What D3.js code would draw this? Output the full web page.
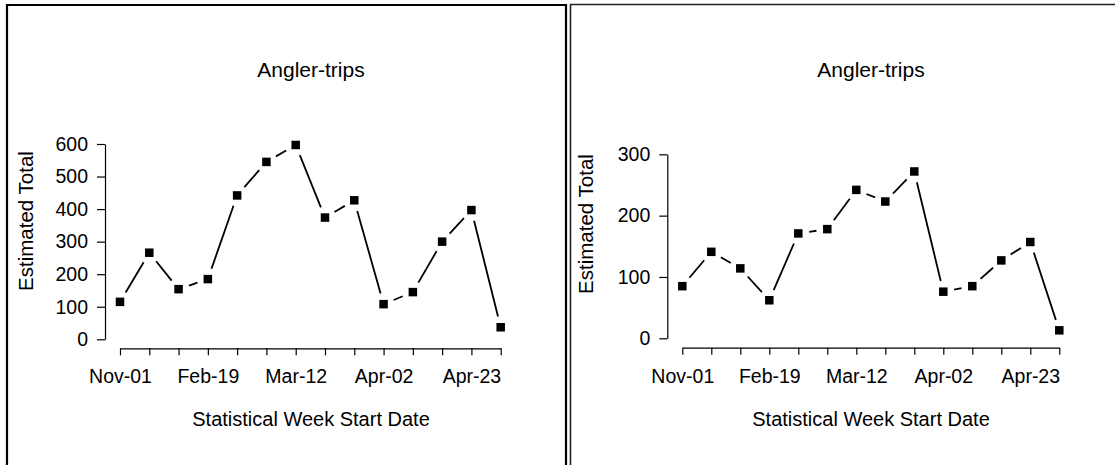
<!DOCTYPE html>
<html>
<head>
<meta charset="utf-8">
<script src="https://cdn.jsdelivr.net/npm/d3@7"></script>
<style>
  html, body { margin: 0; padding: 0; background: #fff; }
  svg { display: block; }
  text { font-family: "Liberation Sans", Arial, sans-serif; fill: #000; }
</style>
</head>
<body>
<svg id="chart" width="1115" height="465"></svg>
<script>
// Statistical week start dates (shared by both panels)
const weeks = ["Nov-01", "Nov-08", "Feb-12", "Feb-19", "Feb-26", "Mar-05", "Mar-12",
               "Mar-19", "Mar-26", "Apr-02", "Apr-09", "Apr-16", "Apr-23", "Apr-30"];
// Week labels that are printed under the axis
const shownWeeks = ["Nov-01", "Feb-19", "Mar-12", "Apr-02", "Apr-23"];

// Estimated angler-trips, first panel
const tripsA = [115, 266, 154, 185, 442, 545, 597, 374, 427, 108, 145, 300, 397, 37];
// Estimated angler-trips, second panel
const tripsB = [85, 141, 114, 62, 171, 178, 242, 223, 272, 76, 85, 127, 157, 13];

const ticksA = [0, 100, 200, 300, 400, 500, 600];
const ticksB = [0, 100, 200, 300];

const svg = d3.select("#chart");

// Panel frames
svg.append("path")
  .attr("d", "M7,470 V5 H566 V470")
  .attr("fill", "none").attr("stroke", "#000").attr("stroke-width", 2.2);
svg.append("path")
  .attr("d", "M570.5,470 V4.5 H1120")
  .attr("fill", "none").attr("stroke", "#222").attr("stroke-width", 1.6);

function panel(cfg) {
  const g = svg.append("g");
  const x = d3.scalePoint().domain(weeks).range(cfg.xRange);
  const y = d3.scaleLinear().domain([0, d3.max(cfg.ticks)]).range(cfg.yRange);

  // Title
  g.append("text")
    .attr("x", cfg.cx).attr("y", 76.5)
    .attr("text-anchor", "middle")
    .style("font-size", "21px")
    .text("Angler-trips");

  // Y axis
  const yAxis = g.append("g")
    .attr("transform", `translate(${cfg.yAxisX},0)`)
    .call(d3.axisLeft(y).tickValues(cfg.ticks).tickSize(8).tickPadding(9).tickSizeOuter(0));
  yAxis.select(".domain").attr("stroke", "#000").attr("stroke-width", 1.2);
  yAxis.selectAll(".tick line").attr("stroke", "#000").attr("stroke-width", 1.2);
  yAxis.selectAll(".tick text")
    .style("font-size", "19.5px")
    .style("font-family", "'Liberation Sans', Arial, sans-serif")
    .attr("fill", "#000");

  // X axis
  const xAxis = g.append("g")
    .attr("transform", `translate(0,${cfg.xAxisY})`)
    .call(d3.axisBottom(x).tickSize(7).tickPadding(14).tickSizeOuter(0)
      .tickFormat(d => shownWeeks.includes(d) ? d : ""));
  xAxis.select(".domain").attr("stroke", "#000").attr("stroke-width", 1.2);
  xAxis.selectAll(".tick line").attr("stroke", "#000").attr("stroke-width", 1.2);
  xAxis.selectAll(".tick text")
    .style("font-size", "19.5px")
    .style("font-family", "'Liberation Sans', Arial, sans-serif")
    .attr("fill", "#000");

  // Axis titles
  g.append("text")
    .attr("x", cfg.cx).attr("y", 426)
    .attr("text-anchor", "middle")
    .style("font-size", "20px")
    .text("Statistical Week Start Date");
  g.append("text")
    .attr("transform", `translate(${cfg.yTitleX},${cfg.yTitleY}) rotate(-90)`)
    .attr("text-anchor", "middle")
    .style("font-size", "20.5px")
    .text("Estimated Total");

  // Connecting segments, broken around each marker
  const pts = cfg.values.map((v, i) => [x(weeks[i]), y(v)]);
  const gap = 11;
  const segs = [];
  for (let i = 0; i < pts.length - 1; i++) {
    const [x0, y0] = pts[i], [x1, y1] = pts[i + 1];
    const dx = x1 - x0, dy = y1 - y0, len = Math.hypot(dx, dy);
    if (len <= 2 * gap) continue;
    const ux = dx / len, uy = dy / len;
    segs.push([x0 + ux * gap, y0 + uy * gap, x1 - ux * gap, y1 - uy * gap]);
  }
  g.selectAll("line.seg").data(segs).join("line")
    .attr("class", "seg")
    .attr("x1", d => d[0]).attr("y1", d => d[1])
    .attr("x2", d => d[2]).attr("y2", d => d[3])
    .attr("stroke", "#000").attr("stroke-width", 1.8);

  // Square markers
  const s = 8.5;
  g.selectAll("rect.pt").data(cfg.values).join("rect")
    .attr("class", "pt")
    .attr("x", (d, i) => x(weeks[i]) - s / 2)
    .attr("y", d => y(d) - s / 2)
    .attr("width", s).attr("height", s)
    .attr("fill", "#000");
}

panel({
  values: tripsA, ticks: ticksA,
  xRange: [120, 500.7], yRange: [339.3, 144],
  yAxisX: 105, xAxisY: 348.3, cx: 311,
  yTitleX: 33, yTitleY: 221
});

panel({
  values: tripsB, ticks: ticksB,
  xRange: [682.3, 1059.3], yRange: [338.3, 154.3],
  yAxisX: 667.3, xAxisY: 347.7, cx: 871,
  yTitleX: 593, yTitleY: 224
});
</script>
</body>
</html>
